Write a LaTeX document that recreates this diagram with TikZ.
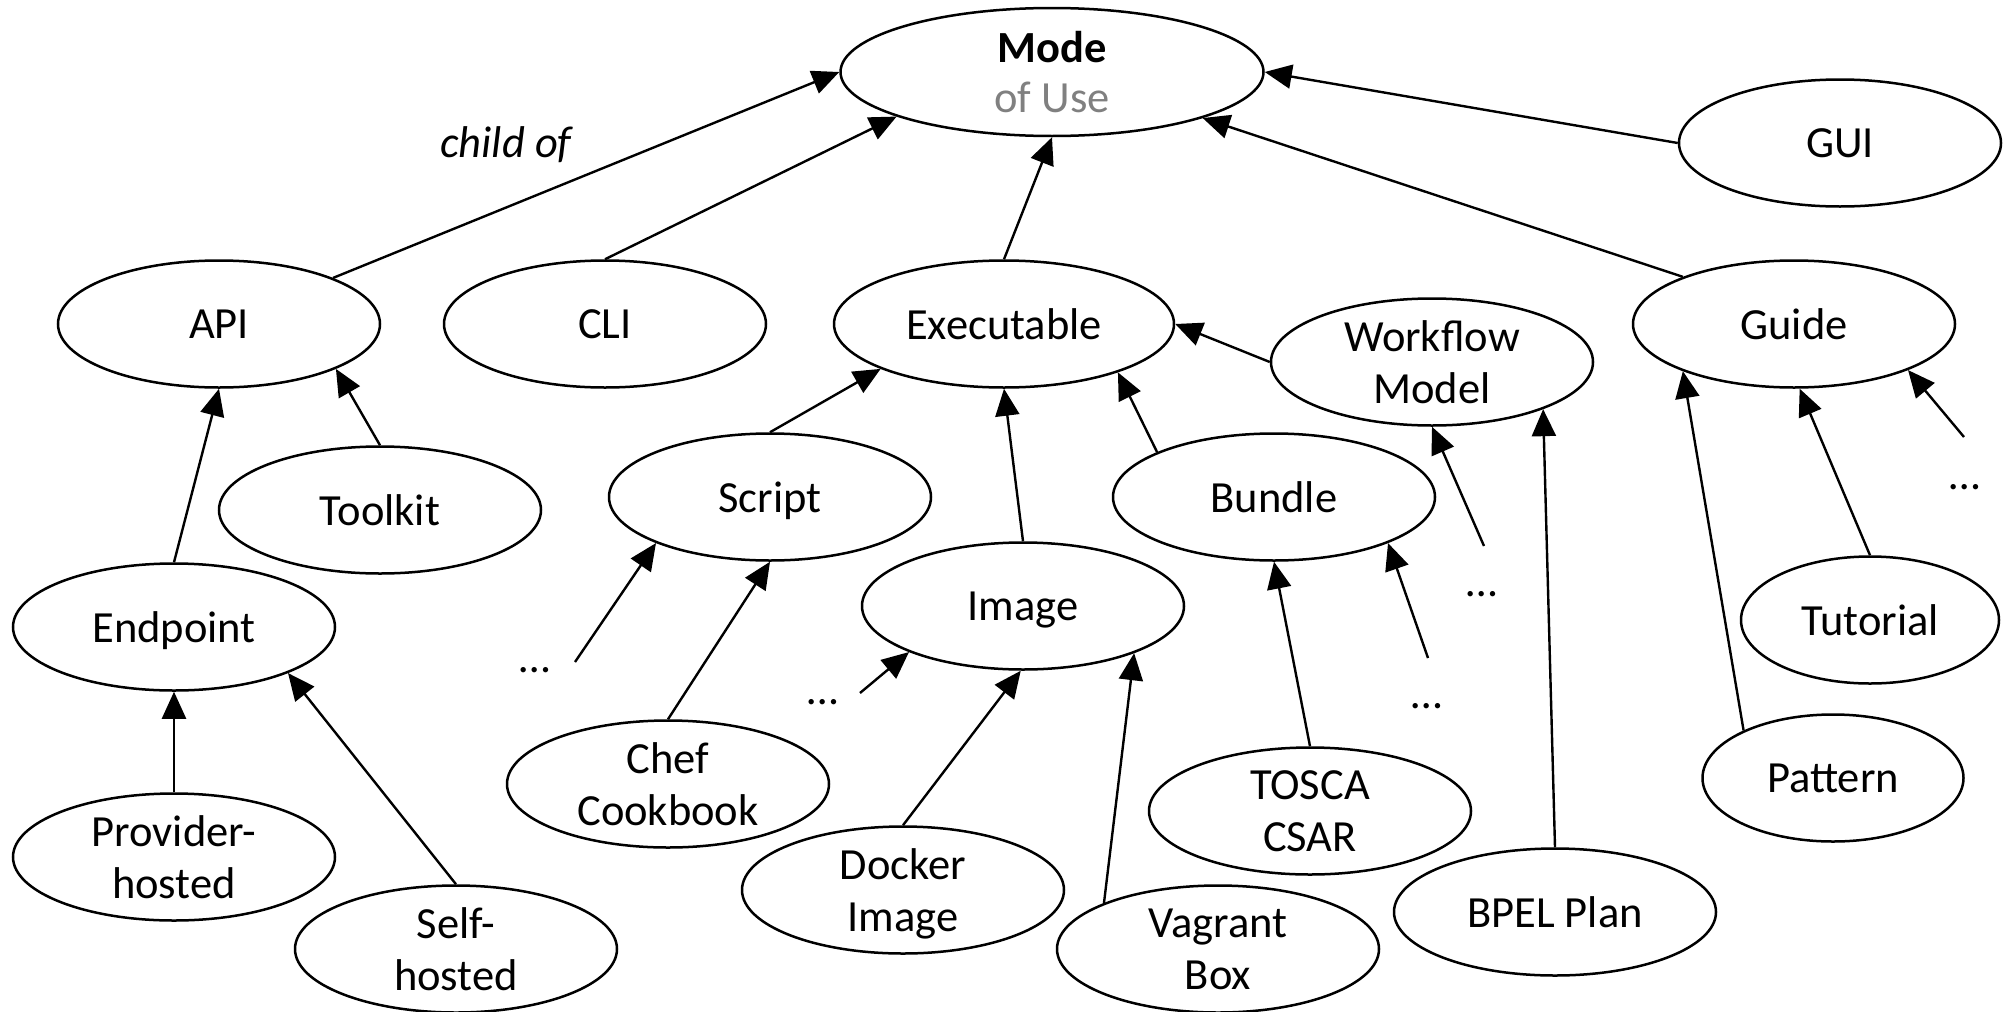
\documentclass[tikz,border=0pt]{standalone}
\usepackage{fontspec}
\setmainfont{Carlito}
\usepackage{tikz}
\usetikzlibrary{shapes.geometric,arrows.meta}
\definecolor{usegray}{RGB}{128,128,128}
\tikzstyle{every node}=[font=\fontsize{44.5}{52}\selectfont]
\tikzstyle{cls}=[ellipse,draw=black,line width=2.5pt,minimum width=322pt,minimum height=127pt,inner sep=0pt,align=center,text depth=0pt]
\tikzstyle{dots}=[inner sep=0pt,text depth=0pt]
\tikzstyle{isa}=[-{Triangle[length=27pt,width=24pt]},line width=2.4pt]

\begin{document}
\begin{tikzpicture}[x=1pt,y=-1pt]
\useasboundingbox (0,0) rectangle (2011,1012);
\node[cls,minimum width=423pt,minimum height=128pt] (mode) at (1052,72) {\textbf{Mode}\\[-2pt]\textcolor{usegray}{of Use}};
\node[cls] (gui) at (1840,143) {GUI};
\node[cls] (api) at (219,324) {API};
\node[cls] (cli) at (605,324) {CLI};
\node[cls,minimum width=340pt] (exec) at (1004,324) {Executable};
\node[cls] (workflow) at (1432,362) {Workflow\\Model};
\node[cls] (guide) at (1794,324) {Guide};
\node[cls] (toolkit) at (380,510) {Toolkit};
\node[cls] (script) at (770,497) {Script};
\node[cls] (bundle) at (1274,497) {Bundle};
\node[cls] (endpoint) at (174,627) {Endpoint};
\node[cls] (image) at (1023,606) {Image};
\node[cls,minimum width=258pt] (tutorial) at (1870,620) {Tutorial};
\node[cls] (chef) at (668,784) {Chef\\Cookbook};
\node[cls] (tosca) at (1310,811) {TOSCA\\CSAR};
\node[cls,minimum width=261pt] (pattern) at (1833,778) {Pattern};
\node[cls] (provider) at (174,857) {Provider-\\hosted};
\node[cls] (docker) at (903,890) {Docker\\Image};
\node[cls] (bpel) at (1555,912) {BPEL Plan};
\node[cls] (self) at (456,949) {Self-\\hosted};
\node[cls] (vagrant) at (1218,949) {Vagrant\\Box};
\node (childof) at (507,145) {\textit{child of}};
% open ends
\node[dots] (dotsA) at (535,670) {…};
\node[dots] (dotsB) at (823,702) {…};
\node[dots] (dotsC) at (1427,706) {…};
\node[dots] (dotsD) at (1482,594) {…};
\node[dots] (dotsE) at (1965,487) {…};
\coordinate (endA) at (575,662);
\coordinate (endB) at (860,693);
\coordinate (endC) at (1428,658);
\coordinate (endD) at (1484,546);
\coordinate (endE) at (1964,437);

\draw[isa] (api.22) -- (mode.west);
\draw[isa] (cli.north) -- (mode.196);
\draw[isa] (exec.north) -- (mode.south);
\draw[isa] (gui.west) -- (mode.east);
\draw[isa] (guide.157) -- (mode.343);
\draw[isa] (workflow.west) -- (exec.east);
\draw[isa] (script.north) -- (exec.200);
\draw[isa] (image.north) -- (exec.south);
\draw[isa] (bundle.159) -- (exec.337);
\draw[isa] (toolkit.north) -- (api.339);
\draw[isa] (endpoint.north) -- (api.south);
\draw[isa] (provider.north) -- (endpoint.south);
\draw[isa] (self.north) -- (endpoint.338);
\draw[isa] (chef.north) -- (script.south);
\draw[isa] (endA) -- (script.202);
\draw[isa] (endB) -- (image.202);
\draw[isa] (docker.north) -- (image.268);
\draw[isa] (vagrant.158) -- (image.337);
\draw[isa] (tosca.north) -- (bundle.south);
\draw[isa] (endC) -- (bundle.338);
\draw[isa] (endD) -- (workflow.south);
\draw[isa] (bpel.north) -- (workflow.337);
\draw[isa] (pattern.152) -- (guide.203);
\draw[isa] (tutorial.north) -- (guide.275);
\draw[isa] (endE) -- (guide.338);
\end{tikzpicture}
\end{document}
